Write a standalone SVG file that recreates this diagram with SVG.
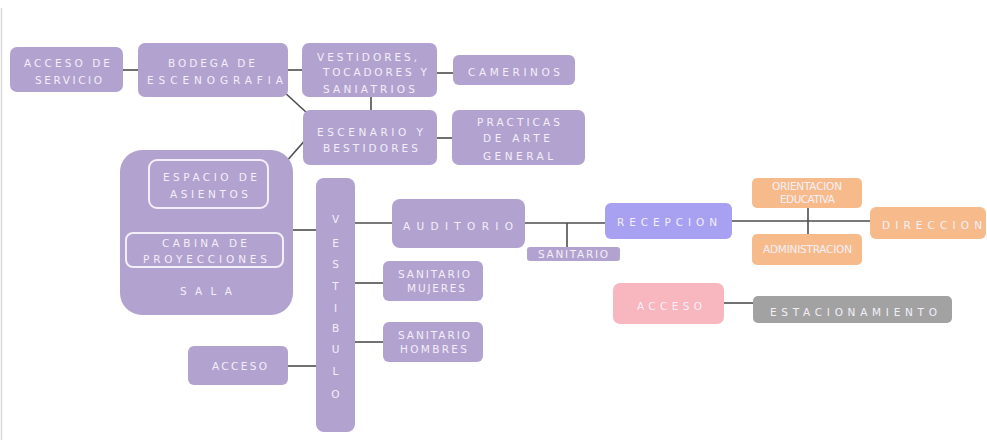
<svg xmlns="http://www.w3.org/2000/svg" width="987" height="440" viewBox="0 0 987 440">
<style>
.p{fill:#b2a2cf}
.o{fill:#f7bb8b}
.t{font-family:"DejaVu Sans","Liberation Sans",sans-serif;fill:#f3eff9;text-anchor:middle;font-size:10.5px}
.c{stroke:#4d4d4d;stroke-width:1.6;fill:none}
.in{fill:none;stroke:#f3eff8;stroke-width:2}
</style>
<rect width="987" height="440" fill="#ffffff"/>
<line x1="1.5" y1="8" x2="1.5" y2="440" stroke="#d9d9d9" stroke-width="1.5"/>
<g id="connectors">
<line class="c" x1="123" y1="70" x2="138" y2="70"/>
<line class="c" x1="288" y1="70" x2="302" y2="70"/>
<line class="c" x1="437" y1="73" x2="453" y2="73"/>
<line class="c" x1="371" y1="97" x2="371" y2="110"/>
<line class="c" x1="437" y1="138" x2="452" y2="138"/>
<line class="c" x1="283" y1="91" x2="307" y2="113"/>
<line class="c" x1="285" y1="163" x2="307" y2="138"/>
<line class="c" x1="293" y1="230" x2="316" y2="230"/>
<line class="c" x1="355" y1="223" x2="392" y2="223"/>
<line class="c" x1="355" y1="283" x2="383" y2="283"/>
<line class="c" x1="355" y1="342" x2="383" y2="342"/>
<line class="c" x1="288" y1="366" x2="316" y2="366"/>
<line class="c" x1="525" y1="223" x2="605" y2="223"/>
<line class="c" x1="567" y1="223" x2="567" y2="247"/>
<line class="c" x1="732" y1="221" x2="870" y2="221" stroke-width="2.6"/>
<line class="c" x1="808" y1="208" x2="808" y2="234" stroke-width="2"/>
<line class="c" x1="724" y1="303" x2="754" y2="303" stroke-width="2"/>
</g>
<g id="acceso-servicio">
<rect class="p" x="10" y="47" width="113" height="45" rx="7"/>
<text class="t" x="67" y="67" textLength="86" lengthAdjust="spacing">ACCESO DE</text>
<text class="t" x="68.5" y="84" textLength="67" lengthAdjust="spacing">SERVICIO</text>
</g>
<g id="bodega">
<rect class="p" x="138" y="43" width="150" height="54" rx="7"/>
<text class="t" x="211.5" y="67" textLength="87" lengthAdjust="spacing">BODEGA DE</text>
<text class="t" x="215" y="84" textLength="136" lengthAdjust="spacing">ESCENOGRAFIA</text>
</g>
<g id="vestidores">
<rect class="p" x="302" y="43" width="135" height="54" rx="7"/>
<text class="t" x="367" y="61" textLength="100" lengthAdjust="spacing">VESTIDORES,</text>
<text class="t" x="375" y="76" textLength="104" lengthAdjust="spacing">TOCADORES Y</text>
<text class="t" x="369" y="93" textLength="92" lengthAdjust="spacing">SANIATRIOS</text>
</g>
<g id="camerinos">
<rect class="p" x="453" y="55" width="122" height="30" rx="6"/>
<text class="t" x="514" y="76" textLength="92" lengthAdjust="spacing">CAMERINOS</text>
</g>
<g id="escenario">
<rect class="p" x="303" y="110" width="134" height="55" rx="7"/>
<text class="t" x="370" y="136" textLength="106" lengthAdjust="spacing">ESCENARIO Y</text>
<text class="t" x="370.5" y="152" textLength="95" lengthAdjust="spacing">BESTIDORES</text>
</g>
<g id="practicas">
<rect class="p" x="452" y="110" width="133" height="55" rx="7"/>
<text class="t" x="518.5" y="126" textLength="83" lengthAdjust="spacing">PRACTICAS</text>
<text class="t" x="516.5" y="142" textLength="67" lengthAdjust="spacing">DE ARTE</text>
<text class="t" x="518" y="160" textLength="70" lengthAdjust="spacing">GENERAL</text>
</g>
<g id="sala">
<rect class="p" x="120" y="150" width="173" height="165" rx="22"/>
<rect class="in" x="149" y="160" width="119" height="48" rx="8"/>
<text class="t" x="210" y="181" textLength="94" lengthAdjust="spacing">ESPACIO DE</text>
<text class="t" x="209" y="198" textLength="78" lengthAdjust="spacing">ASIENTOS</text>
<rect class="in" x="126" y="233" width="157" height="34" rx="7"/>
<text class="t" x="204.5" y="247" textLength="85" lengthAdjust="spacing">CABINA DE</text>
<text class="t" x="205" y="263" textLength="124" lengthAdjust="spacing">PROYECCIONES</text>
<text class="t" x="206" y="294.5" font-size="12" textLength="52" lengthAdjust="spacing">SALA</text>
</g>
<g id="vestibulo">
<rect class="p" x="316" y="178" width="39" height="254" rx="8"/>
<g class="t" font-size="13">
<text x="335.5" y="223">V</text>
<text x="335.5" y="247">E</text>
<text x="335.5" y="268">S</text>
<text x="335.5" y="290">T</text>
<text x="335.5" y="312">I</text>
<text x="335.5" y="332">B</text>
<text x="335.5" y="353">U</text>
<text x="335.5" y="375">L</text>
<text x="335.5" y="398">O</text>
</g>
</g>
<g id="auditorio">
<rect class="p" x="392" y="199" width="133" height="49" rx="8"/>
<text class="t" x="458" y="230" font-size="14.5" textLength="110" lengthAdjust="spacing">AUDITORIO</text>
</g>
<g id="sanitario">
<rect class="p" x="527" y="247" width="93" height="14" rx="3"/>
<text class="t" x="573" y="257.5" font-size="7.5" textLength="70" lengthAdjust="spacing">SANITARIO</text>
</g>
<g id="sanitario-mujeres">
<rect class="p" x="383" y="261" width="100" height="40" rx="6"/>
<text class="t" x="434" y="278" font-size="9.5" textLength="72" lengthAdjust="spacing">SANITARIO</text>
<text class="t" x="436" y="292" font-size="9.5" textLength="58" lengthAdjust="spacing">MUJERES</text>
</g>
<g id="sanitario-hombres">
<rect class="p" x="383" y="322" width="100" height="40" rx="6"/>
<text class="t" x="434" y="339" font-size="9.5" textLength="72" lengthAdjust="spacing">SANITARIO</text>
<text class="t" x="433.5" y="353" font-size="9.5" textLength="67" lengthAdjust="spacing">HOMBRES</text>
</g>
<g id="acceso">
<rect class="p" x="188" y="346" width="100" height="39" rx="6"/>
<text class="t" x="239.5" y="370" font-size="8.5" textLength="55" lengthAdjust="spacing">ACCESO</text>
</g>
<g id="recepcion">
<rect x="605" y="203" width="127" height="36" rx="6" fill="#a8a0f0"/>
<text class="t" x="667" y="226" font-size="11.5" textLength="100" lengthAdjust="spacing">RECEPCION</text>
</g>
<g id="orientacion">
<rect class="o" x="752" y="178" width="110" height="30" rx="5"/>
<text class="t" x="807" y="190" font-size="7.5" textLength="70" lengthAdjust="spacing">ORIENTACION</text>
<text class="t" x="807.5" y="203" font-size="7.5" textLength="55" lengthAdjust="spacing">EDUCATIVA</text>
</g>
<g id="administracion">
<rect class="o" x="752" y="234" width="110" height="31" rx="5"/>
<text class="t" x="807.5" y="253" font-size="8" textLength="89" lengthAdjust="spacing">ADMINISTRACION</text>
</g>
<g id="direccion">
<rect class="o" x="870" y="207" width="116" height="32" rx="6"/>
<text class="t" x="932" y="228.5" font-size="12.5" textLength="100" lengthAdjust="spacing">DIRECCION</text>
</g>
<g id="acceso-2">
<rect x="613" y="283" width="111" height="41" rx="7" fill="#f8b6be"/>
<text class="t" x="669.5" y="310" font-size="11.5" textLength="65" lengthAdjust="spacing">ACCESO</text>
</g>
<g id="estacionamiento">
<rect x="753" y="296" width="199" height="27" rx="5" fill="#a2a2a2"/>
<text class="t" x="853.5" y="315.5" font-size="13" textLength="167" lengthAdjust="spacing">ESTACIONAMIENTO</text>
</g>
</svg>
